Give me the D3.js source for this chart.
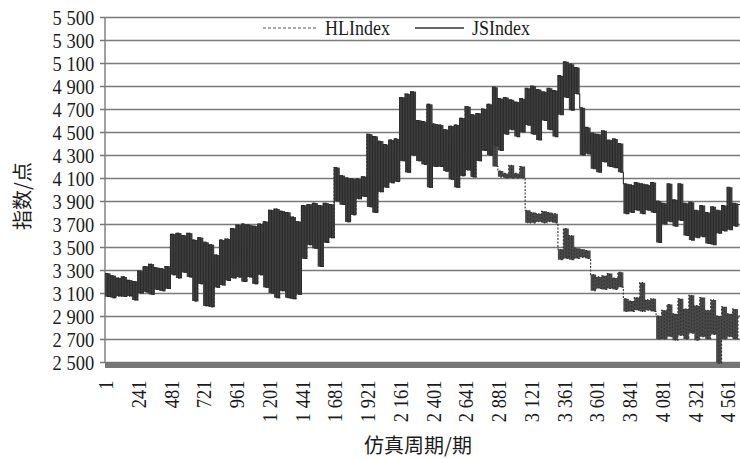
<!DOCTYPE html>
<meta charset="utf-8">
<style>
  body { margin: 0; background: #fff; }
  svg { display: block; }
</style>
<svg width="740" height="459"></svg>
<script src="https://d3js.org/d3.v7.min.js"></script>
<script>
// readings every 40 periods: upper / lower edge of the noisy band
var step = 40

var jsHigh = [3270,3250,3230,3240,3210,3200,3290,3330,3350,3320,3310,3330,
  3610,3620,3600,3620,3560,3580,3540,3520,3430,3560,3570,3660,
  3690,3700,3690,3680,3700,3720,3820,3830,3810,3800,3760,3720,
  3860,3870,3880,3860,3880,3870,4190,4120,4100,4090,4090,4110,
  4480,4460,4420,4390,4430,4440,4800,4830,4850,4600,4590,4740,
  4570,4560,4520,4550,4560,4620,4720,4650,4660,4700,4740,4890,
  4790,4800,4780,4760,4790,4880,4900,4870,4850,4880,4860,4990,
  5110,5090,5060,4710,4540,4490,4480,4510,4430,4440,4400,4050,
  4040,4060,4050,4040,4060,3900,3880,4050,3910,4050,3880,3890,
  3820,3860,3800,3850,3820,3860,4020,3880,3870]

var jsLow = [3070,3060,3075,3070,3075,3040,3100,3110,3090,3130,3120,3140,
  3260,3230,3280,3240,3030,3180,2990,2980,3150,3170,3210,3230,
  3240,3200,3240,3180,3260,3150,3100,3060,3120,3060,3050,3090,
  3400,3520,3490,3330,3540,3580,3900,3870,3720,3780,3920,3940,
  3850,3800,3980,4020,4060,4070,4250,4150,4300,4250,4220,4020,
  4200,4200,4160,4090,4020,4120,4170,4110,4250,4340,4300,4380,
  4340,4480,4520,4460,4500,4560,4480,4430,4600,4520,4460,4650,
  4800,4690,4830,4300,4310,4180,4150,4240,4200,4190,4150,3790,
  3800,3820,3790,3820,3800,3540,3700,3720,3680,3730,3600,3560,
  3580,3590,3530,3520,3620,3640,3650,3680,3660]

// HLIndex sits under JSIndex until about period 2 840, then steps down
var hlSplit = 71
var hlHighTail = [4450,4160,4140,4210,4140,4200,
  3820,3800,3790,3810,3800,3790,
  3480,3660,3600,3490,3480,3470,
  3260,3240,3250,3270,3230,3280,
  3050,3030,3060,3190,3040,3050,
  2900,2950,3000,2920,3050,2960,3080,2990,3060,2950,3040,2900,2980,2920,2960,2900]
var hlLowTail = [4200,4110,4100,4100,4100,4100,
  3710,3710,3720,3710,3720,3710,
  3390,3400,3390,3400,3410,3400,
  3120,3140,3130,3140,3130,3150,
  2940,2940,2950,2940,2950,2940,
  2700,2700,2720,2690,2730,2700,2750,2690,2720,2700,2740,2490,2700,2720,2700,2710]
var hlHigh = jsHigh.slice(0, hlSplit).concat(hlHighTail)
var hlLow = jsLow.slice(0, hlSplit).concat(hlLowTail)

var yTicks = [2500,2700,2900,3100,3300,3500,3700,3900,4100,4300,4500,4700,4900,5100,5300,5500]
var xTicks = [1,241,481,721,961,1201,1441,1681,1921,2161,2401,2641,2881,3121,3361,3601,3841,4081,4321,4561]

var serif = 'Liberation Serif'
var cjk = 'Noto Sans CJK SC'

var svg = d3.select('svg')
var x = d3.scaleLinear().domain([1, 4656]).range([105, 740])
var y = d3.scaleLinear().domain([2500, 5500]).range([362, 17])

var fmt = d3.formatLocale({ decimal: '.', thousands: ' ', grouping: [3], currency: ['', ''] }).format(',d')

// gridlines + y labels
var yAxis = svg.append('g')
  .attr('transform', 'translate(100,0)')
  .call(d3.axisLeft(y).tickValues(yTicks).tickFormat(fmt).tickSizeInner(-640).tickSizeOuter(0).tickPadding(7))
yAxis.attr('font-family', serif).attr('font-size', 22)
yAxis.select('.domain').remove()
yAxis.selectAll('line').attr('stroke', '#7a7a7a').attr('stroke-width', 1.4)
yAxis.selectAll('text')
  .attr('fill', '#1c1c1c')
  .attr('transform', 'scale(0.84,1)')

svg.append('line')
  .attr('x1', 105).attr('x2', 105).attr('y1', y(5500)).attr('y2', y(2500))
  .attr('stroke', '#7a7a7a').attr('stroke-width', 1.4)

// thick bottom bar
svg.append('rect')
  .attr('x', 105).attr('y', y(2500)).attr('width', 640).attr('height', 6)
  .attr('fill', '#767676')

// x labels
var xAxis = svg.append('g')
  .attr('transform', 'translate(0,368)')
  .call(d3.axisBottom(x).tickValues(xTicks).tickFormat(fmt).tickSize(0))
xAxis.attr('font-family', serif).attr('font-size', 22)
xAxis.select('.domain').remove()
xAxis.selectAll('text')
  .attr('fill', '#1c1c1c')
  .attr('text-anchor', 'end')
  .attr('x', -15).attr('y', 0).attr('dy', '0.35em')
  .attr('transform', 'rotate(-90) scale(0.84,1)')

// series
svg.append('clipPath').attr('id', 'plot')
  .append('rect').attr('x', 105).attr('y', 0).attr('width', 635).attr('height', 370)

var plot = svg.append('g').attr('clip-path', 'url(#plot)')

function zig(hi, lo) {
  var pts = []
  hi.forEach(function (h, i) {
    pts.push([1 + i * step, h])
    pts.push([1 + i * step + step / 2, lo[i]])
  })
  return pts
}

function drawSeries(hi, lo, fill, stroke, dash) {
  var band = d3.area()
    .curve(d3.curveStepAfter)
    .x(function (d, i) { return x(1 + i * step) })
    .y0(function (d, i) { return y(lo[i]) })
    .y1(function (d) { return y(d) })
  plot.append('path').datum(hi)
    .attr('d', band).attr('fill', fill)
  plot.append('path').datum(zig(hi, lo))
    .attr('d', d3.line().curve(d3.curveStepAfter)
      .x(function (d) { return x(d[0]) }).y(function (d) { return y(d[1]) }))
    .attr('fill', 'none').attr('stroke', stroke).attr('stroke-width', 1.1)
    .attr('stroke-dasharray', dash)
}

drawSeries(hlHigh, hlLow, '#494949', '#333', '2,1.5')
drawSeries(jsHigh, jsLow, '#3e3e3e', '#2a2a2a', null)

// legend
var lg = svg.append('g').attr('font-family', serif).attr('font-size', 20).attr('fill', '#1c1c1c')
lg.append('line').attr('x1', 263).attr('x2', 317).attr('y1', 28).attr('y2', 28)
  .attr('stroke', '#555').attr('stroke-width', 1.2).attr('stroke-dasharray', '3,2')
lg.append('text').attr('transform', 'translate(325,35) scale(0.9,1)').text('HLIndex')
lg.append('line').attr('x1', 415).attr('x2', 464).attr('y1', 28).attr('y2', 28)
  .attr('stroke', '#333').attr('stroke-width', 1.4)
lg.append('text').attr('transform', 'translate(472,35) scale(0.9,1)').text('JSIndex')

// axis titles
svg.append('text')
  .attr('transform', 'translate(23,196) rotate(-90)')
  .attr('text-anchor', 'middle').attr('dy', '0.35em')
  .attr('font-family', cjk).attr('font-size', 20).attr('fill', '#1c1c1c')
  .text('指数/点')
svg.append('text')
  .attr('x', 418).attr('y', 453)
  .attr('text-anchor', 'middle')
  .attr('font-family', cjk).attr('font-size', 20).attr('fill', '#1c1c1c')
  .text('仿真周期/期')
</script>
